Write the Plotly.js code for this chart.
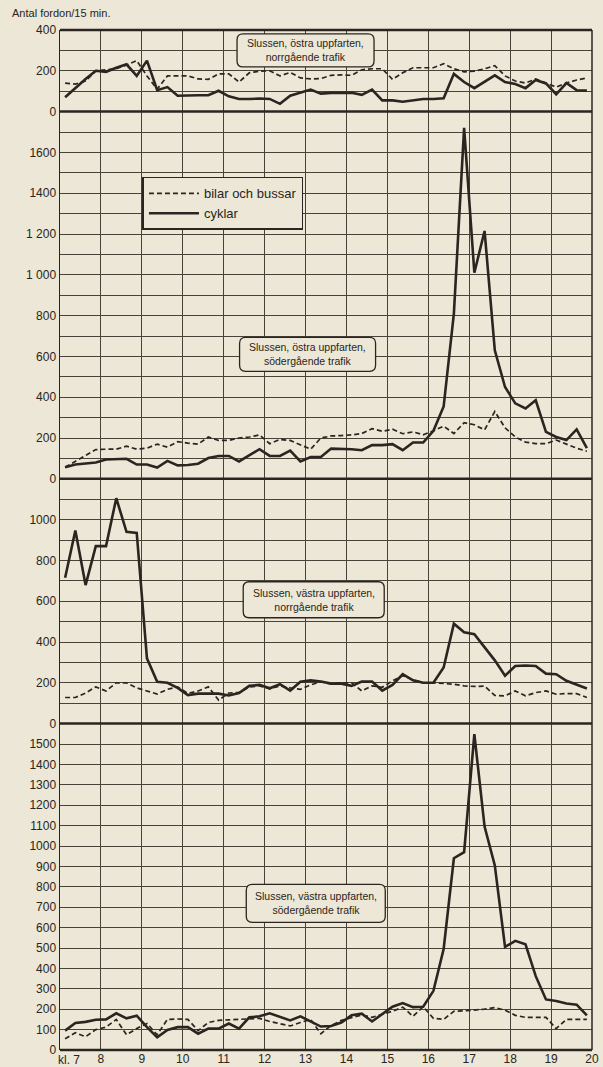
<!DOCTYPE html>
<html><head><meta charset="utf-8">
<script src="https://cdn.plot.ly/plotly-3.0.1.min.js"></script>
<style>html,body{margin:0;padding:0;background:#ece7d6;}</style>
</head><body>
<div id="chart" style="width:603px;height:1067px;"></div>
<script>
// Mid-points of each 15-minute interval (hours)
const times = [7.125,7.375,7.625,7.875,8.125,8.375,8.625,8.875,9.125,9.375,9.625,9.875,10.125,10.375,10.625,10.875,11.125,11.375,11.625,11.875,12.125,12.375,12.625,12.875,13.125,13.375,13.625,13.875,14.125,14.375,14.625,14.875,15.125,15.375,15.625,15.875,16.125,16.375,16.625,16.875,17.125,17.375,17.625,17.875,18.125,18.375,18.625,18.875,19.125,19.375,19.625,19.875];

const seriesNames = ["bilar och bussar", "cyklar"];
const panelTitles = [
  "Slussen, östra uppfarten,<br>norrgående trafik",
  "Slussen, östra uppfarten,<br>södergående trafik",
  "Slussen, västra uppfarten,<br>norrgående trafik",
  "Slussen, västra uppfarten,<br>södergående trafik"
];

// Panel 1: östra uppfarten, norrgående
const ostraNorrBilar = [140,135,150,200,205,210,228,250,175,110,175,175,175,160,158,185,185,145,190,198,200,175,192,165,160,162,178,180,178,205,210,210,158,190,215,215,215,235,210,195,198,210,225,175,150,140,160,140,120,140,155,165];
const ostraNorrCyklar = [70,115,160,200,195,215,232,175,250,105,120,78,80,80,80,102,75,62,62,64,62,38,78,94,108,88,92,92,92,82,108,55,55,48,55,62,62,65,185,145,115,145,178,145,135,115,155,138,85,140,105,103];

// Panel 2: östra uppfarten, södergående
const ostraSoderBilar = [57,85,115,143,145,145,160,145,150,170,155,182,175,170,205,188,188,200,205,215,172,193,188,165,145,200,210,212,215,222,246,233,243,221,230,216,235,258,222,275,265,240,330,250,205,180,172,172,190,170,150,135];
const ostraSoderCyklar = [57,70,75,80,95,95,98,70,70,55,88,66,68,74,102,112,112,85,115,145,112,112,138,85,107,107,148,148,145,140,165,165,170,140,178,178,235,355,810,1720,1010,1215,630,450,370,345,385,230,205,190,242,150];

// Panel 3: västra uppfarten, norrgående
const vastraNorrBilar = [128,128,150,180,160,200,200,175,160,145,168,180,148,160,180,115,150,152,180,185,170,185,175,168,190,205,195,200,200,160,185,178,210,235,215,200,200,198,193,185,182,184,138,136,160,136,152,160,144,147,147,128];
const vastraNorrCyklar = [715,947,679,870,870,1105,940,935,320,205,200,175,140,147,147,147,138,150,185,190,173,193,162,205,212,206,196,195,185,206,206,162,190,242,212,200,200,275,490,448,438,375,310,235,282,285,282,245,242,210,192,172];

// Panel 4: västra uppfarten, södergående
const vastraSoderBilar = [55,85,65,100,112,150,75,105,130,75,150,152,150,95,135,145,148,150,155,155,140,130,118,135,150,80,120,145,160,172,160,175,190,210,165,212,155,150,190,192,195,200,208,195,170,160,160,160,105,150,150,150];
const vastraSoderCyklar = [95,132,138,148,150,180,155,168,112,62,98,112,112,80,105,105,130,105,160,165,180,162,145,165,140,115,118,135,170,178,140,175,212,230,210,212,290,495,940,970,1548,1095,905,505,535,518,362,248,240,228,222,170];

const hourTicks = [7,8,9,10,11,12,13,14,15,16,17,18,19,20];
const hourLabels = ["","8","9","10","11","12","13","14","15","16","17","18","19","20"];

const INK = "#2a2520";
const GRID = "#4a4238";
const BG = "#ece7d6";
const FONT = "Liberation Sans, Arial, sans-serif";

const M = {l: 60, r: 11, t: 30, b: 17};
const W = 603, H = 1067;
const plotW = W - M.l - M.r, plotH = H - M.t - M.b;
const totalUnits = 400 + 1800 + 1200 + 1600;
const unitsPerPxY = totalUnits / plotH;
const hoursPerPxX = 13 / plotW;

const panels = [
  {x:"x4", y:"y4", bilar: ostraNorrBilar,  cyklar: ostraNorrCyklar,  box:{cx:13.0,  cy:300}},
  {x:"x3", y:"y3", bilar: ostraSoderBilar, cyklar: ostraSoderCyklar, box:{cx:13.05, cy:610}},
  {x:"x2", y:"y2", bilar: vastraNorrBilar, cyklar: vastraNorrCyklar, box:{cx:13.2,  cy:607}},
  {x:"x",  y:"y",  bilar: vastraSoderBilar, cyklar: vastraSoderCyklar, box:{cx:13.25, cy:719}}
];

const traces = [];
panels.forEach((p, i) => {
  traces.push({x: times, y: p.bilar, xaxis: p.x, yaxis: p.y, type: "scatter", mode: "lines",
    name: seriesNames[0], showlegend: i === 1, legendrank: 1,
    line: {color: INK, width: 1.7, dash: "5px,3px"}, hoverinfo: "skip"});
  traces.push({x: times, y: p.cyklar, xaxis: p.x, yaxis: p.y, type: "scatter", mode: "lines",
    name: seriesNames[1], showlegend: i === 1, legendrank: 2,
    line: {color: INK, width: 2.6}, hoverinfo: "skip"});
});

function xax(anchor) {
  return {
    domain: [0, 1], range: [7, 20], anchor: anchor,
    tickmode: "array", tickvals: hourTicks, ticktext: hourLabels,
    showticklabels: anchor === "y", ticks: "", showgrid: true, gridcolor: GRID, gridwidth: 1,
    zeroline: false, showline: false, fixedrange: true,
    tickfont: {family: FONT, size: 12, color: INK}
  };
}
function yax(domain, maxv, vals, texts, minorStep, anchor) {
  const ax = {
    domain: domain, range: [0, maxv], anchor: anchor,
    tickmode: "array", tickvals: vals, ticktext: texts,
    ticks: "", showgrid: true, gridcolor: GRID, gridwidth: 1,
    zeroline: false, showline: true, linecolor: INK, linewidth: 1.5,
    tickfont: {family: FONT, size: 12, color: INK}, fixedrange: true
  };
  if (minorStep) ax.minor = {dtick: minorStep, tick0: 0, showgrid: true, gridcolor: GRID, gridwidth: 1, ticks: ""};
  return ax;
}

// rounded label frame (size in pixels, converted to the panel's data units)
function roundedBox(xref, yref, cx, cy, wPx, hPx, rPx) {
  const hw = wPx / 2 * hoursPerPxX, hh = hPx / 2 * unitsPerPxY;
  const rx = rPx * hoursPerPxX, ry = rPx * unitsPerPxY;
  const x0 = cx - hw, x1 = cx + hw, y0 = cy - hh, y1 = cy + hh;
  const path = `M ${x0 + rx},${y0} L ${x1 - rx},${y0} Q ${x1},${y0} ${x1},${y0 + ry} ` +
    `L ${x1},${y1 - ry} Q ${x1},${y1} ${x1 - rx},${y1} L ${x0 + rx},${y1} Q ${x0},${y1} ${x0},${y1 - ry} ` +
    `L ${x0},${y0 + ry} Q ${x0},${y0} ${x0 + rx},${y0} Z`;
  return {type: "path", xref: xref, yref: yref, path: path, fillcolor: BG,
    line: {color: INK, width: 1.3}, layer: "above"};
}

const b1 = 0.32, b2 = 0.56, b3 = 0.92;
const shapes = [
  {type:"line", xref:"paper", yref:"paper", x0:0, x1:1, y0:0, y1:0, line:{color:INK, width:2.5}},
  {type:"line", xref:"paper", yref:"paper", x0:0, x1:1, y0:b1, y1:b1, line:{color:INK, width:2.5}},
  {type:"line", xref:"paper", yref:"paper", x0:0, x1:1, y0:b2, y1:b2, line:{color:INK, width:2.5}},
  {type:"line", xref:"paper", yref:"paper", x0:0, x1:1, y0:b3, y1:b3, line:{color:INK, width:2.5}},
  {type:"line", xref:"paper", yref:"paper", x0:0, x1:1, y0:1, y1:1, line:{color:INK, width:2.5}},
  {type:"line", xref:"paper", yref:"paper", x0:1, x1:1, y0:0, y1:1, line:{color:INK, width:1.5}}
];
const boxSizes = [[137, 33], [136, 34], [141, 36], [139, 38]];
panels.forEach((p, i) => shapes.push(roundedBox(p.x, p.y, p.box.cx, p.box.cy, boxSizes[i][0], boxSizes[i][1], 6)));

const annotations = [
  {text: "Antal fordon/15 min.", xref:"paper", yref:"paper", x:-0.094, y:1.017, xanchor:"left", yanchor:"middle",
    showarrow:false, font:{family:FONT, size:11, color:INK}},
  {text: "kl. 7", xref:"x", yref:"paper", x:7, y:0, xanchor:"left", yanchor:"top", xshift:-4, yshift:-1,
    showarrow:false, font:{family:FONT, size:12, color:INK}}
];
panels.forEach((p, i) => annotations.push({text: panelTitles[i], xref: p.x, yref: p.y,
  x: p.box.cx, y: p.box.cy, showarrow: false, font: {family: FONT, size: 10.5, color: INK}}));

const layout = {
  width: W, height: H, margin: M,
  paper_bgcolor: BG, plot_bgcolor: BG,
  font: {family: FONT, color: INK},
  showlegend: true,
  legend: {x: 0.155, y: 0.856, xanchor: "left", yanchor: "top",
    bgcolor: BG, bordercolor: INK, borderwidth: 1.5,
    font: {family: FONT, size: 13, color: INK}, itemwidth: 50, tracegroupgap: 2},
  xaxis: xax("y"),
  xaxis2: Object.assign(xax("y2"), {matches: "x"}),
  xaxis3: Object.assign(xax("y3"), {matches: "x"}),
  xaxis4: Object.assign(xax("y4"), {matches: "x"}),
  yaxis: yax([0, b1], 1600, [0,100,200,300,400,500,600,700,800,900,1000,1100,1200,1300,1400,1500],
    ["0","100","200","300","400","500","600","700","800","900","1000","1100","1200","1300","1400","1500"], null, "x"),
  yaxis2: yax([b1, b2], 1200, [0,200,400,600,800,1000], ["0","200","400","600","800","1000"], 100, "x2"),
  yaxis3: yax([b2, b3], 1800, [0,200,400,600,800,1000,1200,1400,1600],
    ["0","200","400","600","800","1 000","1 200","1400","1600"], 100, "x3"),
  yaxis4: yax([b3, 1], 400, [0,200,400], ["0","200","400"], 100, "x4"),
  shapes: shapes,
  annotations: annotations
};

Plotly.newPlot("chart", traces, layout, {displayModeBar: false, staticPlot: true});
</script>
</body></html>
